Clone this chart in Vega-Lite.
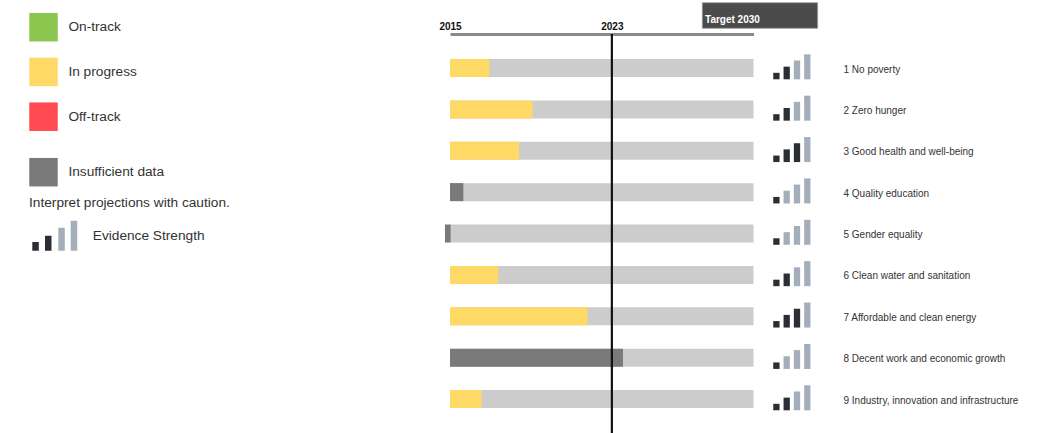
{
  "$schema": "https://vega.github.io/schema/vega-lite/v6.json",
  "autosize": {"type": "none"},
  "padding": {"top": 34, "left": 0, "right": 0, "bottom": 0},
  "width": 1039,
  "height": 399,
  "background": "#ffffff",
  "config": {
    "view": {"stroke": null},
    "font": "Liberation Sans",
    "legend": {
      "labelFont": "Liberation Sans",
      "labelFontSize": 13.7,
      "labelColor": "#333333",
      "titleFont": "Liberation Sans",
      "symbolStrokeWidth": 0,
      "symbolOpacity": 1,
      "padding": 0,
      "labelLimit": 400
    }
  },
  "datasets": {
    "sdg": [
      {"sdg": "1 No poverty", "start": 2015, "end": 2016.95, "status": "In progress"},
      {"sdg": "2 Zero hunger", "start": 2015, "end": 2019.08, "status": "In progress"},
      {"sdg": "3 Good health and well-being", "start": 2015, "end": 2018.41, "status": "In progress"},
      {"sdg": "4 Quality education", "start": 2015, "end": 2015.66, "status": "Insufficient data"},
      {"sdg": "5 Gender equality", "start": 2014.75, "end": 2015.03, "status": "Insufficient data"},
      {"sdg": "6 Clean water and sanitation", "start": 2015, "end": 2017.38, "status": "In progress"},
      {"sdg": "7 Affordable and clean energy", "start": 2015, "end": 2021.79, "status": "In progress"},
      {"sdg": "8 Decent work and economic growth", "start": 2015, "end": 2023.55, "status": "Insufficient data"},
      {"sdg": "9 Industry, innovation and infrastructure", "start": 2015, "end": 2016.56, "status": "In progress"}
    ],
    "icons": [
      {"sdg": "1 No poverty", "level": 1, "shade": "dark"},
      {"sdg": "1 No poverty", "level": 2, "shade": "dark"},
      {"sdg": "1 No poverty", "level": 3, "shade": "light"},
      {"sdg": "1 No poverty", "level": 4, "shade": "light"},
      {"sdg": "2 Zero hunger", "level": 1, "shade": "dark"},
      {"sdg": "2 Zero hunger", "level": 2, "shade": "dark"},
      {"sdg": "2 Zero hunger", "level": 3, "shade": "light"},
      {"sdg": "2 Zero hunger", "level": 4, "shade": "light"},
      {"sdg": "3 Good health and well-being", "level": 1, "shade": "dark"},
      {"sdg": "3 Good health and well-being", "level": 2, "shade": "dark"},
      {"sdg": "3 Good health and well-being", "level": 3, "shade": "dark"},
      {"sdg": "3 Good health and well-being", "level": 4, "shade": "light"},
      {"sdg": "4 Quality education", "level": 1, "shade": "dark"},
      {"sdg": "4 Quality education", "level": 2, "shade": "light"},
      {"sdg": "4 Quality education", "level": 3, "shade": "light"},
      {"sdg": "4 Quality education", "level": 4, "shade": "light"},
      {"sdg": "5 Gender equality", "level": 1, "shade": "dark"},
      {"sdg": "5 Gender equality", "level": 2, "shade": "light"},
      {"sdg": "5 Gender equality", "level": 3, "shade": "light"},
      {"sdg": "5 Gender equality", "level": 4, "shade": "light"},
      {"sdg": "6 Clean water and sanitation", "level": 1, "shade": "dark"},
      {"sdg": "6 Clean water and sanitation", "level": 2, "shade": "dark"},
      {"sdg": "6 Clean water and sanitation", "level": 3, "shade": "light"},
      {"sdg": "6 Clean water and sanitation", "level": 4, "shade": "light"},
      {"sdg": "7 Affordable and clean energy", "level": 1, "shade": "dark"},
      {"sdg": "7 Affordable and clean energy", "level": 2, "shade": "dark"},
      {"sdg": "7 Affordable and clean energy", "level": 3, "shade": "dark"},
      {"sdg": "7 Affordable and clean energy", "level": 4, "shade": "light"},
      {"sdg": "8 Decent work and economic growth", "level": 1, "shade": "dark"},
      {"sdg": "8 Decent work and economic growth", "level": 2, "shade": "light"},
      {"sdg": "8 Decent work and economic growth", "level": 3, "shade": "light"},
      {"sdg": "8 Decent work and economic growth", "level": 4, "shade": "light"},
      {"sdg": "9 Industry, innovation and infrastructure", "level": 1, "shade": "dark"},
      {"sdg": "9 Industry, innovation and infrastructure", "level": 2, "shade": "dark"},
      {"sdg": "9 Industry, innovation and infrastructure", "level": 3, "shade": "light"},
      {"sdg": "9 Industry, innovation and infrastructure", "level": 4, "shade": "light"}
    ],
    "target": [
      {"label": "Target 2030", "start": 2027.47, "end": 2033.17}
    ],
    "today": [
      {"year": 2023}
    ]
  },
  "layer": [
    {
      "data": {"name": "sdg"},
      "mark": {"type": "bar", "color": "#cccccc"},
      "encoding": {
        "y": {
          "field": "sdg", "type": "nominal", "sort": null,
          "scale": {"paddingInner": 0.4924, "paddingOuter": 0.568, "align": 0.532},
          "axis": {"orient": "right", "offset": -196, "domain": false, "ticks": false, "labelPadding": 0, "labelFontSize": 10, "labelColor": "#333333", "labelLimit": 300, "title": null, "grid": false}
        },
        "x": {
          "datum": 2015, "type": "quantitative",
          "scale": {"domain": [2015, 2030], "range": [450, 753.5]},
          "axis": {"orient": "top", "values": [2015, 2023], "format": "d", "domain": true, "domainColor": "#8a8a8a", "domainWidth": 3, "ticks": false, "grid": false, "labelFlush": false, "labelPadding": 3, "labelFontSize": 10, "labelFontWeight": "bold", "labelColor": "#111111", "title": null}
        },
        "x2": {"datum": 2030}
      }
    },
    {
      "data": {"name": "sdg"},
      "transform": [{"filter": "datum.status !== 'Insufficient data'"}],
      "mark": {"type": "bar"},
      "encoding": {
        "y": {"field": "sdg", "type": "nominal", "sort": null, "scale": {"domain": ["1 No poverty", "2 Zero hunger", "3 Good health and well-being", "4 Quality education", "5 Gender equality", "6 Clean water and sanitation", "7 Affordable and clean energy", "8 Decent work and economic growth", "9 Industry, innovation and infrastructure"], "paddingInner": 0.4924, "paddingOuter": 0.568, "align": 0.532}, "axis": null},
        "x": {"field": "start", "type": "quantitative", "scale": {"domain": [2015, 2030], "range": [450, 753.5]}, "axis": null},
        "x2": {"field": "end"},
        "color": {
          "field": "status", "type": "nominal",
          "scale": {"domain": ["On-track", "In progress", "Off-track"], "range": ["#8cc64f", "#ffd966", "#fe4a50"]},
          "legend": {"orient": "none", "legendX": 29, "legendY": -21.3, "title": null, "symbolType": "square", "symbolSize": 812, "labelOffset": 10.4, "rowPadding": 15.75}
        }
      }
    },
    {
      "data": {"name": "sdg"},
      "transform": [{"filter": "datum.status === 'Insufficient data'"}],
      "mark": {"type": "bar"},
      "encoding": {
        "y": {"field": "sdg", "type": "nominal", "sort": null, "scale": {"domain": ["1 No poverty", "2 Zero hunger", "3 Good health and well-being", "4 Quality education", "5 Gender equality", "6 Clean water and sanitation", "7 Affordable and clean energy", "8 Decent work and economic growth", "9 Industry, innovation and infrastructure"], "paddingInner": 0.4924, "paddingOuter": 0.568, "align": 0.532}, "axis": null},
        "x": {"field": "start", "type": "quantitative", "scale": {"domain": [2015, 2030], "range": [450, 753.5]}, "axis": null},
        "x2": {"field": "end"},
        "color": {
          "field": "status", "type": "nominal",
          "scale": {"domain": ["Insufficient data"], "range": ["#7a7a7a"]},
          "legend": {"orient": "none", "legendX": 29, "legendY": 123.7, "title": "Interpret projections with caution.", "titleOrient": "bottom", "titleAnchor": "start", "titleAlign": "left", "titleFontWeight": "normal", "titleFontSize": 13.7, "titleColor": "#333333", "titlePadding": 9, "titleLimit": 400, "symbolType": "square", "symbolSize": 812, "labelOffset": 10.4}
        }
      }
    },
    {
      "data": {"name": "today"},
      "mark": {"type": "rule", "color": "#111111", "strokeWidth": 2.2},
      "encoding": {
        "x": {"field": "year", "type": "quantitative", "scale": {"domain": [2015, 2030], "range": [450, 753.5]}, "axis": null}
      }
    },
    {
      "data": {"name": "icons"},
      "mark": {"type": "tick", "orient": "vertical", "thickness": 6.3, "opacity": 1},
      "encoding": {
        "x": {"field": "level", "type": "quantitative", "scale": {"domain": [1, 4], "range": [776.4, 807.3]}, "axis": null},
        "y": {"field": "sdg", "type": "nominal", "sort": null, "scale": {"paddingInner": 0.4924, "paddingOuter": 0.568, "align": 0.532}, "axis": null},
        "yOffset": {"field": "level", "type": "quantitative", "scale": {"domain": [1, 4], "range": [17.05, 7.8]}},
        "size": {"field": "level", "type": "quantitative", "scale": {"domain": [1, 4], "range": [6.5, 25], "zero": false}, "legend": null},
        "opacity": {
          "field": "level", "type": "quantitative",
          "scale": {"domain": [1, 4], "range": [1, 1], "zero": false},
          "legend": {
            "orient": "none", "legendX": 39.75, "legendY": 186.7, "title": null,
            "values": [4], "labelExpr": "''",
            "symbolType": "M0.237,1L0.67,1L0.67,-0.533L0.237,-0.533ZM1.063,1L1.497,1L1.497,-1L1.063,-1Z",
            "symbolFillColor": "#a4aebb", "symbolSize": 900, "labelOffset": 23
          }
        },
        "color": {
          "field": "shade", "type": "nominal",
          "scale": {"domain": ["dark", "light"], "range": ["#2b2f35", "#a4aebb"]},
          "legend": {
            "orient": "none", "legendX": 39.75, "legendY": 186.7, "title": null,
            "values": ["dark"], "labelExpr": "'Evidence Strength'",
            "symbolType": "M-1.497,1L-1.063,1L-1.063,0.42L-1.497,0.42ZM-0.65,1L-0.217,1L-0.217,0L-0.65,0Z",
            "symbolSize": 900, "symbolOpacity": 1, "labelOffset": 23
          }
        }
      }
    },
    {
      "data": {"name": "target"},
      "mark": {"type": "rect", "color": "#4b4b4b", "stroke": "#9a9a9a", "strokeWidth": 0.8},
      "encoding": {
        "x": {"field": "start", "type": "quantitative", "scale": {"domain": [2015, 2030], "range": [450, 753.5]}, "axis": null},
        "x2": {"field": "end"},
        "y": {"datum": 0, "type": "quantitative", "scale": {"domain": [0, 1], "range": [-5.7, -31.3]}, "axis": null},
        "y2": {"datum": 1}
      }
    },
    {
      "data": {"name": "target"},
      "mark": {"type": "text", "color": "#ffffff", "fontWeight": "bold", "fontSize": 10, "align": "left", "baseline": "alphabetic", "dx": 2.7, "dy": -5},
      "encoding": {
        "x": {"field": "start", "type": "quantitative", "scale": {"domain": [2015, 2030], "range": [450, 753.5]}, "axis": null},
        "y": {"datum": 0, "type": "quantitative", "scale": {"domain": [0, 1], "range": [-5.7, -31.3]}, "axis": null},
        "text": {"field": "label"}
      }
    }
  ],
  "resolve": {"scale": {"x": "independent", "y": "independent", "color": "independent", "opacity": "independent"}}
}
